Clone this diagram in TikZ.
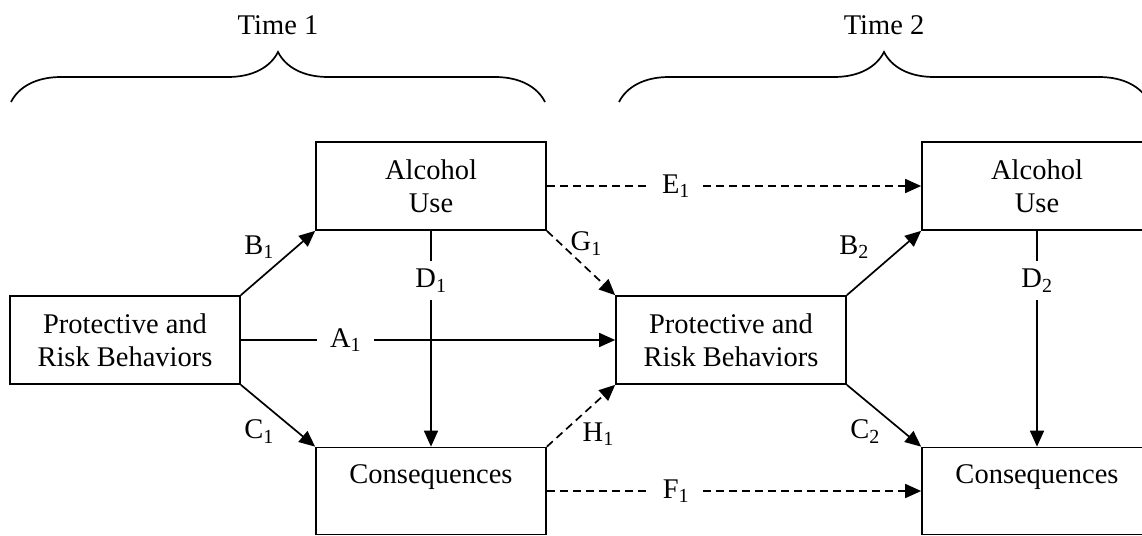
\documentclass[tikz,border=0pt]{standalone}
\usepackage{fontspec}
\setmainfont{Liberation Serif}
\usepackage{tikz}
\usetikzlibrary{arrows.meta, decorations.pathreplacing}
\tikzstyle{factor} = [rectangle, minimum width=230pt, minimum height=88pt, inner sep=6pt, text centered, align=center, draw=black, line width=1.7pt]
\tikzstyle{outcome} = [rectangle, minimum width=230pt, inner sep=6pt, text height=30pt, text depth=45pt, text centered, draw=black, line width=1.7pt]
\tikzstyle{arrow} = [line width=1.7pt,->,>={Triangle[length=16pt,width=14pt]}]
\tikzstyle{dasharrow} = [arrow, dash pattern=on 8pt off 5pt]
\tikzstyle{gaplabel} = [fill=white, inner xsep=13pt, inner ysep=8pt]
\tikzstyle{brace} = [decorate, decoration={brace, amplitude=50pt}, line width=1.7pt]

\begin{document}
\begin{tikzpicture}[x=1pt, y=1pt, node distance=306pt, font=\fontsize{28.5}{33}\selectfont]
\useasboundingbox (0,0) rectangle (1142,-535);

\node (pb1) [factor] at (125,-340) {Protective and\\Risk Behaviors};
\node (pb2) [factor, right of=pb1, xshift=300pt] {Protective and\\Risk Behaviors};
\node (au1) [factor, right of=pb1, yshift=154pt] {Alcohol\\Use};
\node (cq1) [outcome, right of=pb1, yshift=-151pt] {Consequences};
\node (au2) [factor, right of=pb2, yshift=154pt] {Alcohol\\Use};
\node (cq2) [outcome, right of=pb2, yshift=-151pt] {Consequences};

% time braces
\coordinate (t1a) at (11,-102);
\coordinate (t1b) at (545,-102);
\coordinate (t2a) at (619,-102);
\coordinate (t2b) at (1149,-102);
\draw [brace] (t1a) -- node (time1) [above=63pt] {Time 1} (t1b);
\draw [brace] (t2a) -- node (time2) [above=63pt] {Time 2} (t2b);

\draw [arrow] (pb1.north east) -- node (lb1) [above left] {B\textsubscript{1}} (au1.south west);
\draw [arrow] (pb1.south east) -- node (lc1) [below left] {C\textsubscript{1}} (cq1.north west);
\draw [arrow] (pb1) -- node (la1) [gaplabel, pos=0.28] {A\textsubscript{1}} (pb2);
\draw [arrow] (au1) -- node (ld1) [gaplabel, pos=0.23] {D\textsubscript{1}} (cq1);
\draw [dasharrow] (au1) -- node (le1) [gaplabel, pos=0.345] {E\textsubscript{1}} (au2);
\draw [dasharrow] (cq1) -- node (lf1) [gaplabel, pos=0.345] {F\textsubscript{1}} (cq2);
\draw [dasharrow] (au1.south east) -- node (lg1) [pos=0.2, right=6pt] {G\textsubscript{1}} (pb2.north west);
\draw [dasharrow] (cq1.north east) -- node (lh1) [pos=0.2, right=18pt] {H\textsubscript{1}} (pb2.south west);
\draw [arrow] (pb2.north east) -- node (lb2) [above left, xshift=-11pt] {B\textsubscript{2}} (au2.south west);
\draw [arrow] (pb2.south east) -- node (lc2) [below left] {C\textsubscript{2}} (cq2.north west);
\draw [arrow] (au2) -- node (ld2) [gaplabel, pos=0.23] {D\textsubscript{2}} (cq2);

\end{tikzpicture}
\end{document}
